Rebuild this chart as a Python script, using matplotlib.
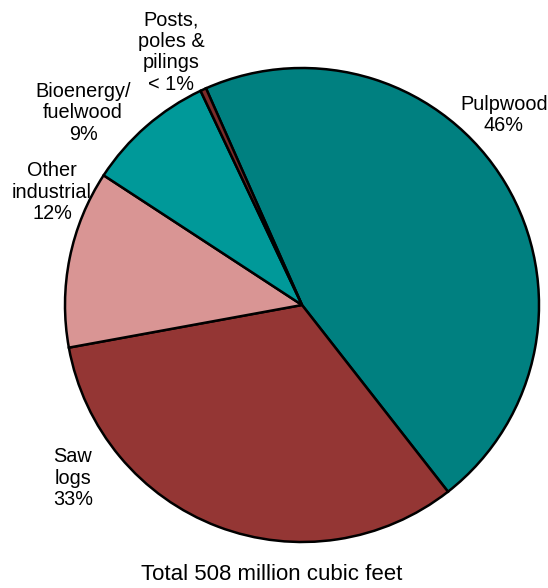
import matplotlib
matplotlib.use("Agg")
import matplotlib.pyplot as plt

plt.rcParams["font.family"] = ["Liberation Sans", "DejaVu Sans"]

categories = ["Pulpwood", "Saw logs", "Other industrial",
              "Bioenergy/fuelwood", "Posts, poles & pilings"]
shares = [46.1, 32.7, 12.1, 8.75, 0.4]
labels = ["Pulpwood\n46%", "Saw\nlogs\n33%", "Other\nindustrial\n12%",
          "Bioenergy/\nfuelwood\n9%", "Posts,\npoles &\npilings\n< 1%"]
colors = ["#008080", "#943634", "#D99594", "#009999", "#7B2C2A"]

# label centres in pixels of the reference (x, y from top)
label_px = [(504, 115), (73, 478), (52, 192), (83, 113), (171, 52)]

W, H = 548, 588
cx, cy, r = 302, 305, 237

fig = plt.figure(figsize=(W / 100, H / 100), dpi=100)
ax = fig.add_axes([(cx - r) / W, (H - cy - r) / H, 2 * r / W, 2 * r / H])
ax.pie(shares,
       colors=colors,
       startangle=113.9,
       counterclock=False,
       wedgeprops={"edgecolor": "black", "linewidth": 1.8})
ax.set_xlim(-1, 1)
ax.set_ylim(-1, 1)
ax.set_aspect("equal")
ax.axis("off")

for text, (px, py) in zip(labels, label_px):
    ax.text((px - cx) / r, (cy - py) / r, text,
            ha="center", va="center", fontsize=14.3,
            linespacing=1.17, clip_on=False)

fig.text(272 / W, 1 - 575 / H, "Total 508 million cubic feet",
         ha="center", va="center", fontsize=16)

fig.savefig("out.png", dpi=100)
